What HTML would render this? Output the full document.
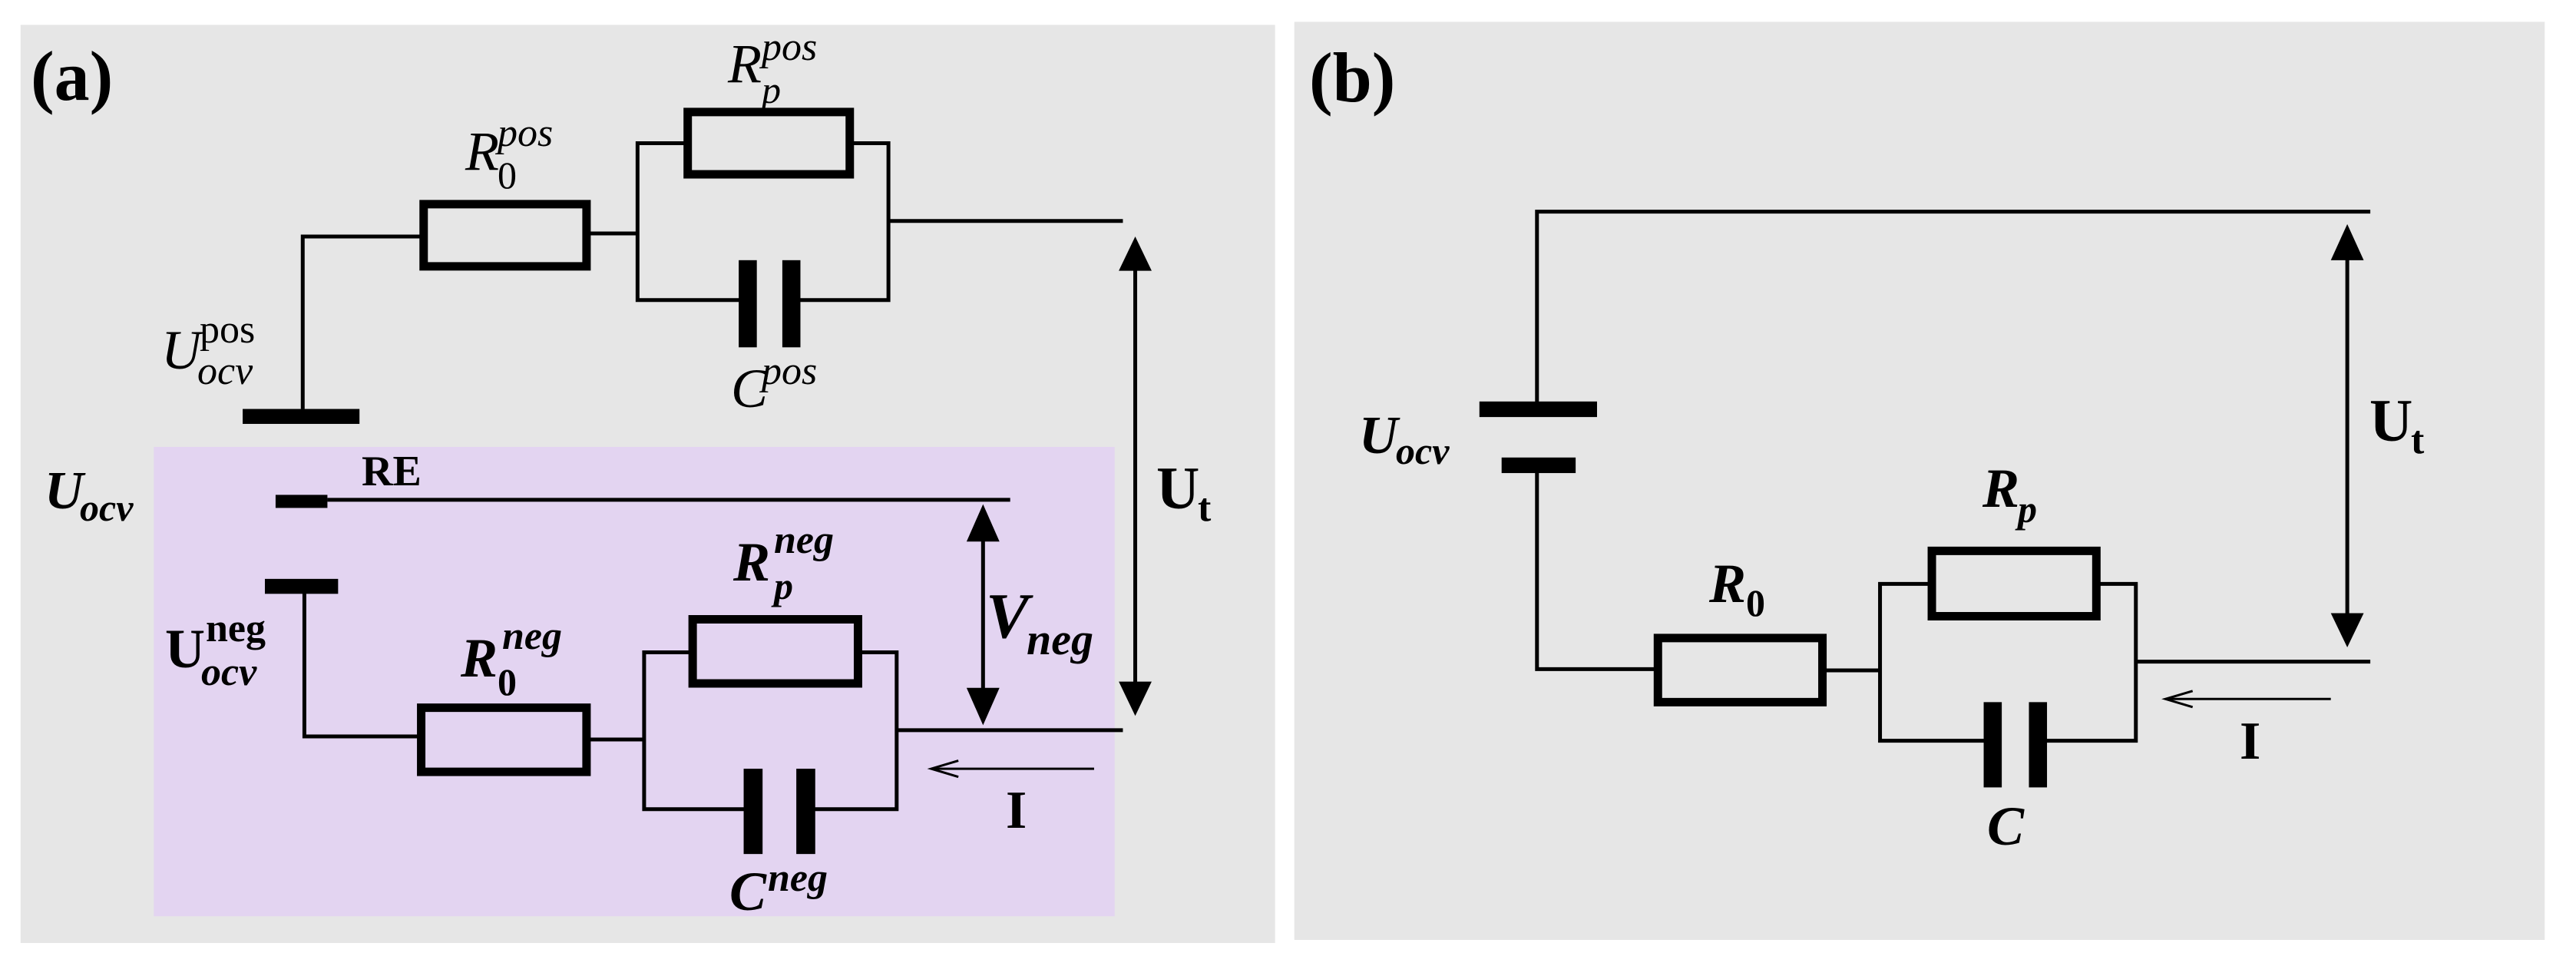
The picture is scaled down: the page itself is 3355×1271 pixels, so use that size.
<!DOCTYPE html>
<html><head><meta charset="utf-8"><style>
html,body{margin:0;padding:0;background:#fff;}
svg{display:block;}
text{font-family:"Liberation Serif",serif;fill:#000;}
.bi{font-weight:bold;font-style:italic;}
.i{font-style:italic;}
.b{font-weight:bold;}
</style></head><body>
<svg width="3355" height="1271" viewBox="0 0 3355 1271" xmlns="http://www.w3.org/2000/svg">
<g transform="scale(1.0714,0.8106)" fill="none" stroke="#000">
  <rect x="25" y="40" width="1525" height="1475" fill="#e6e6e6" stroke="none"/>
  <rect x="187" y="718" width="1168" height="754" fill="#e3d4f1" stroke="none"/>
  <polyline points="368,657 368,380 515,380" stroke-width="5" vector-effect="non-scaling-stroke"/>
  <rect x="515" y="328" width="198" height="100" stroke-width="11" vector-effect="non-scaling-stroke"/>
  <line x1="713" y1="375" x2="775" y2="375" stroke-width="5" vector-effect="non-scaling-stroke"/>
  <polyline points="836,230 775,230 775,482 900,482" stroke-width="5" vector-effect="non-scaling-stroke"/>
  <rect x="836" y="180" width="197" height="100" stroke-width="11" vector-effect="non-scaling-stroke"/>
  <polyline points="1033,230 1080,230 1080,482 971,482" stroke-width="5" vector-effect="non-scaling-stroke"/>
  <line x1="1080" y1="355" x2="1365" y2="355" stroke-width="5" vector-effect="non-scaling-stroke"/>
  <line x1="398" y1="803" x2="1228" y2="803" stroke-width="5" vector-effect="non-scaling-stroke"/>
  <polyline points="370,953 370,1183 512,1183" stroke-width="5" vector-effect="non-scaling-stroke"/>
  <rect x="512" y="1137" width="201" height="103" stroke-width="11" vector-effect="non-scaling-stroke"/>
  <line x1="713" y1="1188" x2="783" y2="1188" stroke-width="5" vector-effect="non-scaling-stroke"/>
  <polyline points="842,1048 783,1048 783,1300 906,1300" stroke-width="5" vector-effect="non-scaling-stroke"/>
  <rect x="842" y="995" width="201" height="103" stroke-width="11" vector-effect="non-scaling-stroke"/>
  <polyline points="1043,1048 1090,1048 1090,1300 990,1300" stroke-width="5" vector-effect="non-scaling-stroke"/>
  <line x1="1090" y1="1173" x2="1365" y2="1173" stroke-width="5" vector-effect="non-scaling-stroke"/>
  <line x1="1380" y1="420" x2="1380" y2="1110" stroke-width="5" vector-effect="non-scaling-stroke"/>
  <line x1="1195" y1="850" x2="1195" y2="1125" stroke-width="5" vector-effect="non-scaling-stroke"/>
  <line x1="1330" y1="1235" x2="1135" y2="1235" stroke-width="3" vector-effect="non-scaling-stroke"/>
  <polyline points="1165,1222 1132,1235 1165,1248" stroke-width="3" vector-effect="non-scaling-stroke"/>
  <g fill="#000" stroke="none">
    <rect x="295" y="657" width="142" height="24"/>
    <rect x="335" y="795" width="63" height="21"/>
    <rect x="322" y="930" width="89" height="24"/>
    <rect x="898" y="418" width="22" height="140"/>
    <rect x="951" y="418" width="22" height="140"/>
    <rect x="904" y="1235" width="23" height="137"/>
    <rect x="968" y="1235" width="23" height="137"/>
    <polygon points="1380,380 1360,435 1400,435"/>
    <polygon points="1380,1150 1360,1095 1400,1095"/>
    <polygon points="1195,810 1175,870 1215,870"/>
    <polygon points="1195,1165 1175,1105 1215,1105"/>
  </g>
</g>
<g transform="translate(1675,0) scale(1.0714,0.8106)" fill="none" stroke="#000">
  <rect x="10" y="35" width="1520" height="1475" fill="#e6e6e6" stroke="none"/>
  <polyline points="1318,340 305,340 305,655" stroke-width="5" vector-effect="non-scaling-stroke"/>
  <polyline points="305,760 305,1075 450,1075" stroke-width="5" vector-effect="non-scaling-stroke"/>
  <rect x="452" y="1025" width="200" height="103" stroke-width="11" vector-effect="non-scaling-stroke"/>
  <line x1="652" y1="1077" x2="722" y2="1077" stroke-width="5" vector-effect="non-scaling-stroke"/>
  <polyline points="783,938 722,938 722,1190 850,1190" stroke-width="5" vector-effect="non-scaling-stroke"/>
  <rect x="785" y="885" width="200" height="105" stroke-width="11" vector-effect="non-scaling-stroke"/>
  <polyline points="985,938 1033,938 1033,1190 923,1190" stroke-width="5" vector-effect="non-scaling-stroke"/>
  <line x1="1033" y1="1063" x2="1318" y2="1063" stroke-width="5" vector-effect="non-scaling-stroke"/>
  <line x1="1290" y1="400" x2="1290" y2="1000" stroke-width="5" vector-effect="non-scaling-stroke"/>
  <line x1="1270" y1="1123" x2="1072" y2="1123" stroke-width="3" vector-effect="non-scaling-stroke"/>
  <polyline points="1102,1110 1069,1123 1102,1136" stroke-width="3" vector-effect="non-scaling-stroke"/>
  <g fill="#000" stroke="none">
    <rect x="235" y="645" width="143" height="25"/>
    <rect x="262" y="735" width="90" height="25"/>
    <rect x="848" y="1128" width="22" height="137"/>
    <rect x="903" y="1128" width="22" height="137"/>
    <polygon points="1290,360 1270,418 1310,418"/>
    <polygon points="1290,1040 1270,985 1310,985"/>
  </g>
</g>

<!-- Panel a text -->
<text x="40" y="130" class="b" font-size="92">(a)</text>
<text x="606" y="221" class="i" font-size="72">R</text>
<text x="648" y="245" font-size="50">0</text>
<text x="648" y="190" class="i" font-size="52">pos</text>
<text x="948" y="107" class="i" font-size="72">R</text>
<text x="992" y="134" class="i" font-size="50">p</text>
<text x="992" y="78" class="i" font-size="52">pos</text>
<text x="210" y="480" class="i" font-size="72">U</text>
<text x="260" y="446" font-size="52">pos</text>
<text x="257" y="500" class="i" font-size="52">ocv</text>
<text x="952" y="530" class="i" font-size="72">C</text>
<text x="992" y="500" class="i" font-size="52">pos</text>
<text x="58" y="662" class="bi" font-size="70">U</text>
<text x="104" y="678" class="bi" font-size="50">ocv</text>
<text x="471" y="632" class="b" font-size="56">RE</text>
<text x="1284" y="830" class="bi" font-size="84">V</text>
<text x="1337" y="852" class="bi" font-size="58">neg</text>
<text x="955" y="756" class="bi" font-size="72">R</text>
<text x="1008" y="780" class="bi" font-size="50">p</text>
<text x="1008" y="720" class="bi" font-size="52">neg</text>
<text x="600" y="881" class="bi" font-size="72">R</text>
<text x="648" y="905" class="b" font-size="50">0</text>
<text x="654" y="845" class="bi" font-size="52">neg</text>
<text x="215" y="869" class="b" font-size="72">U</text>
<text x="268" y="835" class="b" font-size="52">neg</text>
<text x="262" y="892" class="bi" font-size="52">ocv</text>
<text x="950" y="1185" class="bi" font-size="72">C</text>
<text x="1000" y="1160" class="bi" font-size="52">neg</text>
<text x="1506" y="662" class="b" font-size="78">U</text>
<text x="1560" y="678" class="b" font-size="52">t</text>
<text x="1310" y="1078" class="b" font-size="70">I</text>

<!-- Panel b text -->
<text x="1705" y="132" class="b" font-size="92">(b)</text>
<text x="1770" y="590" class="bi" font-size="70">U</text>
<text x="1818" y="604" class="bi" font-size="50">ocv</text>
<text x="2582" y="660" class="bi" font-size="72">R</text>
<text x="2628" y="680" class="bi" font-size="50">p</text>
<text x="2226" y="784" class="bi" font-size="72">R</text>
<text x="2274" y="802" class="b" font-size="50">0</text>
<text x="2588" y="1100" class="bi" font-size="72">C</text>
<text x="3086" y="574" class="b" font-size="78">U</text>
<text x="3140" y="590" class="b" font-size="52">t</text>
<text x="2917" y="988" class="b" font-size="70">I</text>
</svg>
</body></html>
